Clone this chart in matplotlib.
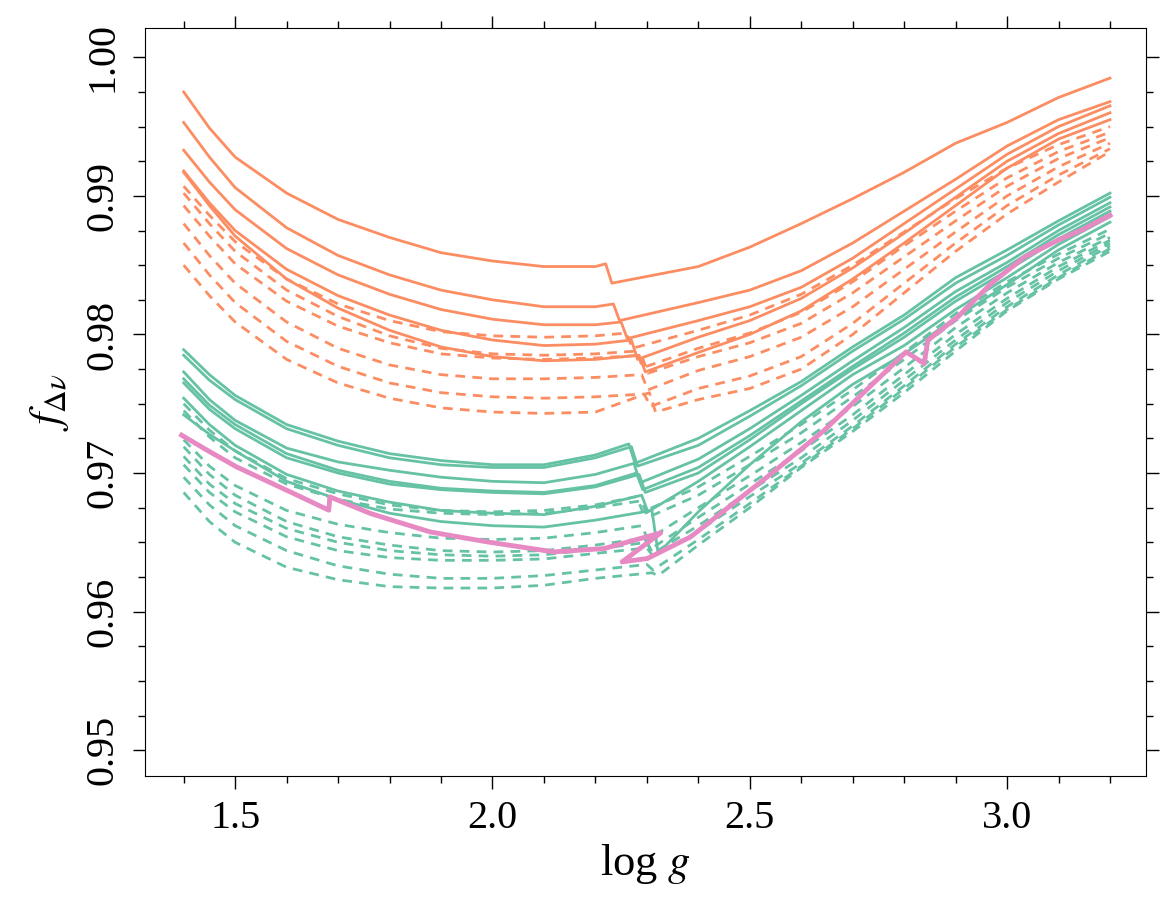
import matplotlib
matplotlib.use('Agg')
import matplotlib.pyplot as plt
from matplotlib.ticker import MultipleLocator

plt.rcParams['font.family'] = ['Liberation Serif', 'DejaVu Serif']
plt.rcParams['mathtext.fontset'] = 'stix'

# shared log g grid on either side of the bump
x_pre = [1.40, 1.45, 1.50, 1.60, 1.70, 1.80, 1.90, 2.00, 2.10, 2.20]
x_post = [2.40, 2.50, 2.60, 2.70, 2.80, 2.90, 3.00, 3.10, 3.20]

# orange, solid: pre-bump values, (bump logg, value before, value after), post-bump values
orange_solid_pre = [
    [0.9975, 0.9949, 0.9928, 0.9902, 0.9883, 0.9870, 0.9859, 0.9853, 0.9849, 0.9849],
    [0.9953, 0.9928, 0.9906, 0.9877, 0.9857, 0.9843, 0.9832, 0.9825, 0.9820, 0.9820],
    [0.9933, 0.9910, 0.9890, 0.9862, 0.9843, 0.9829, 0.9818, 0.9811, 0.9807, 0.9807],
    [0.9918, 0.9895, 0.9875, 0.9847, 0.9828, 0.9814, 0.9803, 0.9796, 0.9792, 0.9793],
    [0.9917, 0.9893, 0.9871, 0.9840, 0.9819, 0.9803, 0.9791, 0.9784, 0.9781, 0.9782],
]
orange_solid_bump = [
    (2.220, 0.9851, 0.9837),
    (2.235, 0.9822, 0.9810),
    (2.250, 0.9809, 0.9797),
    (2.270, 0.9796, 0.9782),
    (2.285, 0.9785, 0.9773),
]
orange_solid_post = [
    [0.9849, 0.9863, 0.9880, 0.9898, 0.9917, 0.9938, 0.9953, 0.9971, 0.9985],
    [0.9823, 0.9832, 0.9846, 0.9866, 0.9889, 0.9912, 0.9936, 0.9955, 0.9968],
    [0.9810, 0.9820, 0.9834, 0.9855, 0.9880, 0.9905, 0.9930, 0.9950, 0.9965],
    [0.9798, 0.9810, 0.9826, 0.9848, 0.9873, 0.9899, 0.9925, 0.9945, 0.9960],
    [0.9787, 0.9800, 0.9817, 0.9840, 0.9866, 0.9893, 0.9920, 0.9941, 0.9955],
]

# orange, dashed
orange_dash_pre = [
    [0.9907, 0.9886, 0.9867, 0.9840, 0.9822, 0.9810, 0.9802, 0.9799, 0.9798, 0.9799],
    [0.9902, 0.9880, 0.9860, 0.9832, 0.9813, 0.9799, 0.9790, 0.9786, 0.9785, 0.9786],
    [0.9893, 0.9871, 0.9851, 0.9824, 0.9806, 0.9794, 0.9786, 0.9783, 0.9782, 0.9783],
    [0.9880, 0.9857, 0.9837, 0.9809, 0.9790, 0.9778, 0.9771, 0.9768, 0.9768, 0.9769],
    [0.9866, 0.9843, 0.9823, 0.9795, 0.9777, 0.9765, 0.9758, 0.9755, 0.9754, 0.9755],
    [0.9850, 0.9828, 0.9809, 0.9782, 0.9765, 0.9754, 0.9747, 0.9744, 0.9743, 0.9744],
]
orange_dash_bump = [
    (2.260, 0.9801, 0.9790),
    (2.280, 0.9788, 0.9776),
    (2.290, 0.9785, 0.9772),
    (2.290, 0.9771, 0.9760),
    (2.295, 0.9757, 0.9748),
    (2.305, 0.9758, 0.9744),
]
orange_dash_post = [
    [0.9803, 0.9814, 0.9829, 0.9850, 0.9874, 0.9898, 0.9920, 0.9937, 0.9950],
    [0.9790, 0.9801, 0.9816, 0.9838, 0.9864, 0.9889, 0.9913, 0.9932, 0.9946],
    [0.9784, 0.9794, 0.9808, 0.9830, 0.9856, 0.9882, 0.9907, 0.9927, 0.9942],
    [0.9774, 0.9784, 0.9798, 0.9820, 0.9847, 0.9874, 0.9900, 0.9921, 0.9938],
    [0.9761, 0.9770, 0.9784, 0.9808, 0.9837, 0.9866, 0.9893, 0.9915, 0.9934],
    [0.9753, 0.9761, 0.9775, 0.9800, 0.9830, 0.9860, 0.9887, 0.9910, 0.9932],
]

# green, solid
green_solid_pre = [
    [0.9789, 0.9771, 0.9756, 0.9735, 0.9723, 0.9714, 0.9709, 0.9706, 0.9706, 0.9713],
    [0.9785, 0.9767, 0.9753, 0.9732, 0.9720, 0.9711, 0.9706, 0.9704, 0.9704, 0.9711],
    [0.9773, 0.9753, 0.9738, 0.9718, 0.9708, 0.9702, 0.9697, 0.9694, 0.9693, 0.9699],
    [0.9768, 0.9749, 0.9735, 0.9714, 0.9702, 0.9694, 0.9689, 0.9687, 0.9686, 0.9691],
    [0.9765, 0.9746, 0.9732, 0.9711, 0.9700, 0.9692, 0.9688, 0.9686, 0.9685, 0.9690],
    [0.9754, 0.9735, 0.9720, 0.9699, 0.9687, 0.9679, 0.9673, 0.9671, 0.9670, 0.9676],
    [0.9742, 0.9728, 0.9716, 0.9694, 0.9681, 0.9671, 0.9665, 0.9662, 0.9661, 0.9666],
]
green_solid_bump = [
    (2.265, 0.9721, 0.9707),
    (2.270, 0.9719, 0.9705),
    (2.275, 0.9707, 0.9693),
    (2.280, 0.9700, 0.9688),
    (2.285, 0.9699, 0.9686),
    (2.290, 0.9684, 0.9672),
    (2.310, 0.9673, 0.9642),
]
green_solid_post = [
    [0.9725, 0.9745, 0.9766, 0.9791, 0.9814, 0.9841, 0.9861, 0.9882, 0.9902],
    [0.9720, 0.9741, 0.9763, 0.9788, 0.9811, 0.9837, 0.9857, 0.9879, 0.9899],
    [0.9710, 0.9732, 0.9756, 0.9781, 0.9805, 0.9831, 0.9852, 0.9875, 0.9895],
    [0.9704, 0.9727, 0.9752, 0.9777, 0.9801, 0.9827, 0.9849, 0.9872, 0.9892],
    [0.9700, 0.9724, 0.9750, 0.9775, 0.9798, 0.9824, 0.9846, 0.9869, 0.9889],
    [0.9694, 0.9719, 0.9745, 0.9771, 0.9792, 0.9818, 0.9841, 0.9865, 0.9885],
    [0.9672, 0.9706, 0.9737, 0.9764, 0.9786, 0.9812, 0.9836, 0.9861, 0.9881],
]

# green, dashed
green_dash_pre = [
    [0.9750, 0.9731, 0.9716, 0.9696, 0.9685, 0.9677, 0.9673, 0.9672, 0.9673, 0.9677],
    [0.9745, 0.9726, 0.9711, 0.9692, 0.9681, 0.9674, 0.9671, 0.9670, 0.9671, 0.9675],
    [0.9724, 0.9705, 0.9691, 0.9673, 0.9663, 0.9657, 0.9653, 0.9652, 0.9653, 0.9657],
    [0.9719, 0.9699, 0.9684, 0.9665, 0.9654, 0.9648, 0.9644, 0.9643, 0.9644, 0.9648],
    [0.9712, 0.9692, 0.9678, 0.9660, 0.9650, 0.9644, 0.9641, 0.9640, 0.9641, 0.9645],
    [0.9706, 0.9686, 0.9672, 0.9654, 0.9644, 0.9639, 0.9637, 0.9637, 0.9638, 0.9642],
    [0.9697, 0.9677, 0.9662, 0.9644, 0.9633, 0.9627, 0.9624, 0.9624, 0.9626, 0.9630],
    [0.9686, 0.9665, 0.9650, 0.9632, 0.9623, 0.9618, 0.9617, 0.9617, 0.9619, 0.9624],
]
green_dash_bump = [
    (2.280, 0.9683, 0.9672),
    (2.290, 0.9680, 0.9668),
    (2.290, 0.9662, 0.9652),
    (2.295, 0.9653, 0.9645),
    (2.300, 0.9650, 0.9642),
    (2.300, 0.9646, 0.9640),
    (2.300, 0.9634, 0.9630),
    (2.310, 0.9628, 0.9626),
]
green_dash_post = [
    [0.9690, 0.9712, 0.9735, 0.9760, 0.9787, 0.9815, 0.9838, 0.9858, 0.9876],
    [0.9684, 0.9706, 0.9729, 0.9755, 0.9782, 0.9810, 0.9834, 0.9855, 0.9873],
    [0.9675, 0.9698, 0.9722, 0.9748, 0.9776, 0.9805, 0.9830, 0.9852, 0.9870],
    [0.9668, 0.9692, 0.9716, 0.9742, 0.9771, 0.9800, 0.9826, 0.9849, 0.9868],
    [0.9662, 0.9687, 0.9711, 0.9738, 0.9767, 0.9796, 0.9823, 0.9846, 0.9866],
    [0.9658, 0.9683, 0.9707, 0.9734, 0.9763, 0.9793, 0.9820, 0.9843, 0.9864],
    [0.9652, 0.9678, 0.9705, 0.9732, 0.9761, 0.9791, 0.9818, 0.9841, 0.9862],
    [0.9648, 0.9675, 0.9704, 0.9730, 0.9758, 0.9788, 0.9817, 0.9840, 0.9860],
]

# single pink track (loops back at the bump)
pink_x = [1.396, 1.450, 1.503, 1.607, 1.682, 1.684, 1.763, 1.879, 1.990, 2.119, 2.217,
          2.327, 2.252, 2.301, 2.385, 2.534, 2.645, 2.726, 2.804, 2.839, 2.846,
          2.904, 2.969, 3.034, 3.099, 3.144, 3.200]
pink_y = [0.97273, 0.97155, 0.97044, 0.96864, 0.96732, 0.96828, 0.96708, 0.96575, 0.96503, 0.96431, 0.96455,
          0.96568, 0.96359, 0.96383, 0.96539, 0.96972, 0.97309, 0.97597, 0.97874, 0.97790, 0.97958,
          0.98126, 0.98367, 0.98559, 0.98680, 0.98752, 0.98860]

orange = '#fc8d62'
green = '#66c2a5'
pink = '#e78ac3'


def track(pre, bump, post):
    xb, ytop, ybot = bump
    return x_pre + [xb, xb + 0.012] + x_post, pre + [ytop, ybot] + post


fig = plt.figure(figsize=(11.7, 9.1), dpi=100)
ax = fig.add_axes([0.124, 0.147, 0.8555, 0.822])

dash = (3.5, 2.6)
for pre, bump, post in zip(orange_dash_pre, orange_dash_bump, orange_dash_post):
    xs, ys = track(pre, bump, post)
    line, = ax.plot(xs, ys, color=orange, lw=2.0)
    line.set_dashes(dash)
for pre, bump, post in zip(orange_solid_pre, orange_solid_bump, orange_solid_post):
    xs, ys = track(pre, bump, post)
    ax.plot(xs, ys, color=orange, lw=2.0)
for pre, bump, post in zip(green_dash_pre, green_dash_bump, green_dash_post):
    xs, ys = track(pre, bump, post)
    line, = ax.plot(xs, ys, color=green, lw=2.0)
    line.set_dashes(dash)
for pre, bump, post in zip(green_solid_pre, green_solid_bump, green_solid_post):
    xs, ys = track(pre, bump, post)
    ax.plot(xs, ys, color=green, lw=2.0)
ax.plot(pink_x, pink_y, color=pink, lw=3.5)

ax.set_xlim(1.325, 3.27)
ax.set_ylim(0.94812, 1.0021)
ax.xaxis.set_major_locator(MultipleLocator(0.5))
ax.xaxis.set_minor_locator(MultipleLocator(0.1))
ax.yaxis.set_major_locator(MultipleLocator(0.01))
ax.yaxis.set_minor_locator(MultipleLocator(0.0025))
ax.xaxis.set_major_formatter(plt.FormatStrFormatter('%.1f'))
ax.yaxis.set_major_formatter(plt.FormatStrFormatter('%.2f'))

ax.tick_params(which='both', direction='out', top=True, right=True, width=1.0)
ax.tick_params(which='major', length=9, labelsize=29, pad=8)
ax.tick_params(which='minor', length=5)
for lab in ax.get_yticklabels():
    lab.set_rotation(90)
    lab.set_va('center')

ax.set_xlabel(r'log $g$', fontsize=32, labelpad=4)
ax.set_ylabel(r'$f_{\Delta\nu}$', fontsize=32, labelpad=10)

fig.savefig('out.png', dpi=100)
